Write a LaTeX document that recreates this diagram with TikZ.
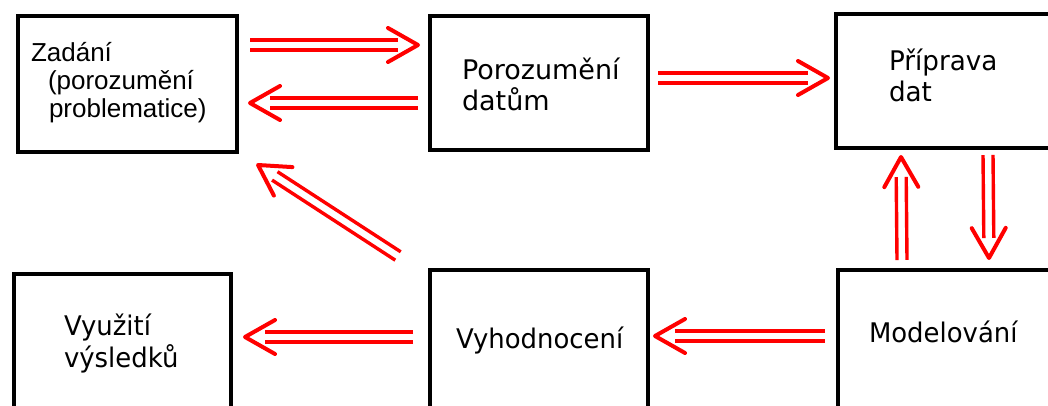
\documentclass[tikz,border=0pt]{standalone}
\usepackage{fontspec}
\usepackage{graphicx}
\setmainfont{DejaVu Sans}
\newfontfamily\arialf{Liberation Sans}
\usetikzlibrary{calc}
\tikzset{
  box/.style={draw=black, line width=3.5pt, inner sep=0pt, outer sep=0pt, anchor=north west},
  arrline/.style={draw=red, line width=3.4pt},
  arrhead/.style={draw=red, line width=4pt, line cap=round, line join=round},
  lbl/.style={anchor=base west, inner sep=0pt, outer sep=0pt},
  djv/.style={font=\fontsize{27}{32}\selectfont},
  arl/.style={font=\arialf\fontsize{26}{28}\selectfont},
}
\newcommand\txtlines[2]{\vtop{\baselineskip=#1\lineskiplimit=-100pt\lineskip=0pt\relax #2}}
\newcommand\dblarr[2]{%
  \path (#1) coordinate (s) (#2) coordinate (e);
  \path ($(e)!20pt!(s)$) coordinate (m) ($(e)!30pt!(s)$) coordinate (h);
  \draw[arrline] ($(s)!5pt!90:(e)$) -- ($(m)!5pt!-90:(s)$);
  \draw[arrline] ($(s)!5pt!-90:(e)$) -- ($(m)!5pt!90:(s)$);
  \draw[arrhead] ($(h)!17pt!90:(e)$) -- (e) -- ($(h)!17pt!-90:(e)$);
}
\begin{document}
\begin{tikzpicture}[x=1pt,y=-1pt]
\useasboundingbox (0,0) rectangle (1048,406);
\clip (0,0) rectangle (1048,406);
\fill[white] (0,0) rectangle (1048,406);
% boxes
\node[box, minimum width=219pt, minimum height=136pt] (A) at (18,16) {};
\node[box, minimum width=218pt, minimum height=134pt] (B) at (430,16) {};
\node[box, minimum width=224pt, minimum height=134pt] (C) at (836,14) {};
\node[box, minimum width=217pt, minimum height=146pt] (D) at (14,274) {};
\node[box, minimum width=218pt, minimum height=150pt] (E) at (430,270) {};
\node[box, minimum width=224pt, minimum height=150pt] (F) at (838,270) {};
% texts
\node[lbl, arl] (tA) at (31,62) {\txtlines{28pt}{\hbox{Zadání}\hbox{\hskip17pt(porozumění}\hbox{\hskip18pt problematice)}}};
\node[lbl, djv] (tB) at (462,80) {\scalebox{1.0}[1]{\txtlines{31pt}{\hbox{Porozumění}\hbox{datům}}}};
\node[lbl, djv] (tC) at (889,71) {\scalebox{0.97}[1]{\txtlines{31pt}{\hbox{Příprava}\hbox{dat}}}};
\node[lbl, djv] (tD) at (64,335) {\scalebox{0.96}[1]{\txtlines{32pt}{\hbox{Využití}\hbox{výsledků}}}};
\node[lbl, djv] (tE) at (456,348) {\scalebox{0.96}[1]{Vyhodnocení}};
\node[lbl, djv] (tF) at (869,342) {\scalebox{0.96}[1]{Modelování}};
% arrows
\dblarr{$(A.east)+(13,-39)$}{$(B.west)+(-12,-38)$}
\dblarr{$(B.west)+(-12,20)$}{$(A.east)+(13,19)$}
\dblarr{$(B.east)+(10,-5)$}{$(C.west)+(-8,-3)$}
\dblarr{$(C.south)+(40,7)$}{$(F.north)+(39,-12)$}
\dblarr{$(F.north)+(-48,-10)$}{$(C.south)+(-47,9)$}
\dblarr{$(F.west)+(-13,-9)$}{$(E.east)+(7,-9)$}
\dblarr{$(E.west)+(-17,-8)$}{$(D.east)+(14,-10)$}
\dblarr{$(E.north west)+(-32,-14)$}{$(A.south east)+(21,13)$}
\end{tikzpicture}
\end{document}
